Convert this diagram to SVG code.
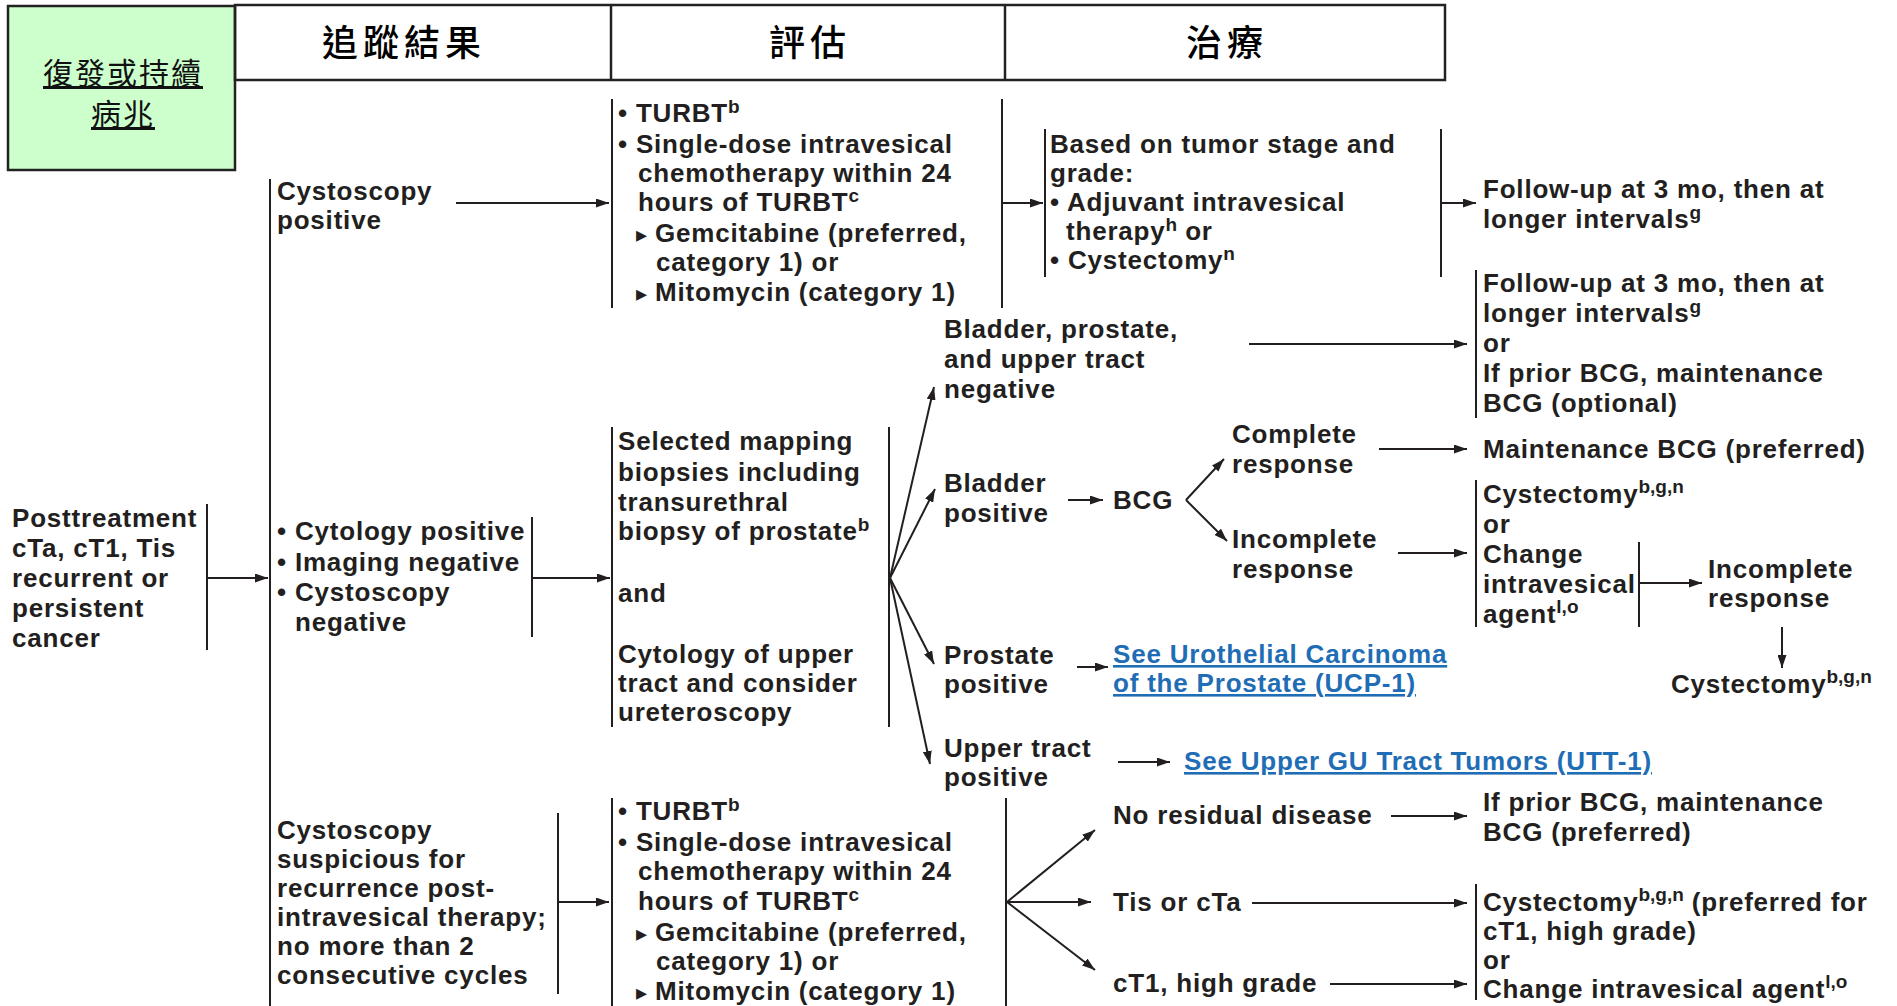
<svg xmlns="http://www.w3.org/2000/svg" width="1897" height="1006" viewBox="0 0 1897 1006">
<style>
.t{font-family:"Liberation Sans",Arial,sans-serif;font-weight:bold;font-size:26px;letter-spacing:0.8px;fill:#231f20}
.sup{font-size:19px;letter-spacing:0}
.tri{font-family:"DejaVu Sans",sans-serif;font-size:22px;letter-spacing:0}
.lk{fill:#1f6db5;text-decoration:underline}
.hd{font-family:"Noto Sans CJK TC","Noto Sans CJK SC",sans-serif;font-weight:500;font-size:36px;letter-spacing:5px;fill:#000;text-anchor:middle}
.gh{font-family:"Noto Sans CJK TC","Noto Sans CJK SC",sans-serif;font-size:30px;letter-spacing:2px;fill:#111;text-anchor:middle;text-decoration:underline}
.ln{stroke:#231f20;stroke-width:2;fill:none}
.ar{stroke:#231f20;stroke-width:2;fill:none;marker-end:url(#ah)}
.hb{stroke:#222;stroke-width:2.5;fill:none}
</style>
<defs>
<marker id="ah" viewBox="0 0 13 9" refX="13" refY="4.5" markerWidth="13" markerHeight="9" markerUnits="userSpaceOnUse" orient="auto">
<path d="M0,0 L13,4.5 L0,9 z" fill="#231f20"/>
</marker>
</defs>
<rect width="1897" height="1006" fill="#fff"/>

<g id="header">
<rect x="8" y="6" width="227" height="164" fill="#ccffcc" stroke="#222" stroke-width="2.5"/>
<text class="gh" x="123" y="84">復發或持續</text>
<text class="gh" x="123" y="125">病兆</text>
<rect class="hb" x="235" y="5" width="1210" height="75"/>
<line class="hb" x1="611" y1="5" x2="611" y2="80"/>
<line class="hb" x1="1005" y1="5" x2="1005" y2="80"/>
<text class="hd" x="404" y="56">追蹤結果</text>
<text class="hd" x="810" y="56">評估</text>
<text class="hd" x="1227" y="56">治療</text>
</g>

<g id="n-posttreatment">
<text class="t" x="12" y="527">Posttreatment</text>
<text class="t" x="12" y="557">cTa, cT1, Tis</text>
<text class="t" x="12" y="587">recurrent or</text>
<text class="t" x="12" y="617">persistent</text>
<text class="t" x="12" y="647">cancer</text>
<line class="ln" x1="207" y1="504" x2="207" y2="650"/>
</g>

<g id="n-followup-col">
<line class="ln" x1="270" y1="179" x2="270" y2="1006"/>
</g>

<g id="n-cysto-pos">
<text class="t" x="277" y="200">Cystoscopy</text>
<text class="t" x="277" y="229">positive</text>
</g>

<g id="n-cytology">
<text class="t" x="277" y="540">• Cytology positive</text>
<text class="t" x="277" y="571">• Imaging negative</text>
<text class="t" x="277" y="601">• Cystoscopy</text>
<text class="t" x="295" y="631">negative</text>
<line class="ln" x1="532" y1="517" x2="532" y2="637"/>
</g>

<g id="n-cysto-susp">
<text class="t" x="277" y="839">Cystoscopy</text>
<text class="t" x="277" y="868">suspicious for</text>
<text class="t" x="277" y="897">recurrence post-</text>
<text class="t" x="277" y="926">intravesical therapy;</text>
<text class="t" x="277" y="955">no more than 2</text>
<text class="t" x="277" y="984">consecutive cycles</text>
<line class="ln" x1="558" y1="813" x2="558" y2="994"/>
</g>

<g id="n-turbt-top">
<line class="ln" x1="612" y1="99" x2="612" y2="308"/>
<line class="ln" x1="1002" y1="99" x2="1002" y2="308"/>
<text class="t" x="618" y="122">• TURBT<tspan class="sup" dy="-9">b</tspan></text>
<text class="t" x="618" y="153">• Single-dose intravesical</text>
<text class="t" x="638" y="182">chemotherapy within 24</text>
<text class="t" x="638" y="211">hours of TURBT<tspan class="sup" dy="-9">c</tspan></text>
<text class="t" x="636" y="242"><tspan class="tri">▸</tspan> Gemcitabine (preferred,</text>
<text class="t" x="656" y="271">category 1) or</text>
<text class="t" x="636" y="301"><tspan class="tri">▸</tspan> Mitomycin (category 1)</text>
</g>

<g id="n-based">
<line class="ln" x1="1045" y1="129" x2="1045" y2="277"/>
<line class="ln" x1="1441" y1="129" x2="1441" y2="277"/>
<text class="t" x="1050" y="153">Based on tumor stage and</text>
<text class="t" x="1050" y="182">grade:</text>
<text class="t" x="1050" y="211">• Adjuvant intravesical</text>
<text class="t" x="1066" y="240">therapy<tspan class="sup" dy="-9">h</tspan><tspan dy="9"> or</tspan></text>
<text class="t" x="1050" y="269">• Cystectomy<tspan class="sup" dy="-9">n</tspan></text>
</g>

<g id="n-followup1">
<text class="t" x="1483" y="198">Follow-up at 3 mo, then at</text>
<text class="t" x="1483" y="228">longer intervals<tspan class="sup" dy="-9">g</tspan></text>
</g>

<g id="n-followup2">
<line class="ln" x1="1476" y1="270" x2="1476" y2="418"/>
<text class="t" x="1483" y="292">Follow-up at 3 mo, then at</text>
<text class="t" x="1483" y="322">longer intervals<tspan class="sup" dy="-9">g</tspan></text>
<text class="t" x="1483" y="352">or</text>
<text class="t" x="1483" y="382">If prior BCG, maintenance</text>
<text class="t" x="1483" y="412">BCG (optional)</text>
</g>

<g id="n-mapping">
<line class="ln" x1="612" y1="427" x2="612" y2="727"/>
<line class="ln" x1="889" y1="427" x2="889" y2="727"/>
<text class="t" x="618" y="450">Selected mapping</text>
<text class="t" x="618" y="481">biopsies including</text>
<text class="t" x="618" y="511">transurethral</text>
<text class="t" x="618" y="540">biopsy of prostate<tspan class="sup" dy="-9">b</tspan></text>
<text class="t" x="618" y="602">and</text>
<text class="t" x="618" y="663">Cytology of upper</text>
<text class="t" x="618" y="692">tract and consider</text>
<text class="t" x="618" y="721">ureteroscopy</text>
</g>

<g id="n-neg">
<text class="t" x="944" y="338">Bladder, prostate,</text>
<text class="t" x="944" y="368">and upper tract</text>
<text class="t" x="944" y="398">negative</text>
</g>

<g id="n-bladder-pos">
<text class="t" x="944" y="492">Bladder</text>
<text class="t" x="944" y="522">positive</text>
</g>

<g id="n-bcg">
<text class="t" x="1113" y="509">BCG</text>
</g>

<g id="n-complete">
<text class="t" x="1232" y="443">Complete</text>
<text class="t" x="1232" y="473">response</text>
</g>

<g id="n-maint">
<text class="t" x="1483" y="458">Maintenance BCG (preferred)</text>
</g>

<g id="n-incomplete">
<text class="t" x="1232" y="548">Incomplete</text>
<text class="t" x="1232" y="578">response</text>
</g>

<g id="n-cyst-change">
<line class="ln" x1="1476" y1="480" x2="1476" y2="627"/>
<line class="ln" x1="1639" y1="542" x2="1639" y2="627"/>
<text class="t" x="1483" y="503">Cystectomy<tspan class="sup" dy="-10">b,g,n</tspan></text>
<text class="t" x="1483" y="533">or</text>
<text class="t" x="1483" y="563">Change</text>
<text class="t" x="1483" y="593">intravesical</text>
<text class="t" x="1483" y="623">agent<tspan class="sup" dy="-10">l,o</tspan></text>
</g>

<g id="n-incomplete2">
<text class="t" x="1708" y="578">Incomplete</text>
<text class="t" x="1708" y="607">response</text>
</g>

<g id="n-cyst2">
<text class="t" x="1671" y="693">Cystectomy<tspan class="sup" dy="-10">b,g,n</tspan></text>
</g>

<g id="n-prostate">
<text class="t" x="944" y="664">Prostate</text>
<text class="t" x="944" y="693">positive</text>
</g>

<g id="n-ucp">
<text class="t lk" x="1113" y="663">See Urothelial Carcinoma</text>
<text class="t lk" x="1113" y="692">of the Prostate (UCP-1)</text>
</g>

<g id="n-upper">
<text class="t" x="944" y="757">Upper tract</text>
<text class="t" x="944" y="786">positive</text>
</g>

<g id="n-utt">
<text class="t lk" x="1184" y="770">See Upper GU Tract Tumors (UTT-1)</text>
</g>

<g id="n-turbt-bot">
<line class="ln" x1="612" y1="798" x2="612" y2="1006"/>
<line class="ln" x1="1006" y1="798" x2="1006" y2="1006"/>
<text class="t" x="618" y="820">• TURBT<tspan class="sup" dy="-9">b</tspan></text>
<text class="t" x="618" y="851">• Single-dose intravesical</text>
<text class="t" x="638" y="880">chemotherapy within 24</text>
<text class="t" x="638" y="910">hours of TURBT<tspan class="sup" dy="-9">c</tspan></text>
<text class="t" x="636" y="941"><tspan class="tri">▸</tspan> Gemcitabine (preferred,</text>
<text class="t" x="656" y="970">category 1) or</text>
<text class="t" x="636" y="1000"><tspan class="tri">▸</tspan> Mitomycin (category 1)</text>
</g>

<g id="n-nores">
<text class="t" x="1113" y="824">No residual disease</text>
</g>

<g id="n-ifprior">
<text class="t" x="1483" y="811">If prior BCG, maintenance</text>
<text class="t" x="1483" y="841">BCG (preferred)</text>
</g>

<g id="n-tis">
<text class="t" x="1113" y="911">Tis or cTa</text>
</g>

<g id="n-ct1">
<text class="t" x="1113" y="992">cT1, high grade</text>
</g>

<g id="n-cyst3">
<line class="ln" x1="1476" y1="884" x2="1476" y2="1000"/>
<text class="t" x="1483" y="911">Cystectomy<tspan class="sup" dy="-10">b,g,n</tspan><tspan dy="10"> (preferred for</tspan></text>
<text class="t" x="1483" y="940">cT1, high grade)</text>
<text class="t" x="1483" y="969">or</text>
<text class="t" x="1483" y="998">Change intravesical agent<tspan class="sup" dy="-10">l,o</tspan></text>
</g>

<g id="connectors">
<line class="ar" x1="207" y1="578" x2="268" y2="578"/>
<line class="ar" x1="456" y1="203" x2="609" y2="203"/>
<line class="ar" x1="532" y1="578" x2="610" y2="578"/>
<line class="ar" x1="559" y1="902" x2="609" y2="902"/>
<line class="ar" x1="1002" y1="203" x2="1043" y2="203"/>
<line class="ar" x1="1441" y1="203" x2="1476" y2="203"/>
<line class="ar" x1="890" y1="578" x2="934" y2="387"/>
<line class="ar" x1="890" y1="578" x2="935" y2="489"/>
<line class="ar" x1="890" y1="578" x2="934" y2="664"/>
<line class="ar" x1="890" y1="578" x2="930" y2="764"/>
<line class="ar" x1="1249" y1="344" x2="1467" y2="344"/>
<line class="ar" x1="1068" y1="500" x2="1103" y2="500"/>
<line class="ar" x1="1186" y1="500" x2="1224" y2="459"/>
<line class="ar" x1="1186" y1="500" x2="1227" y2="541"/>
<line class="ar" x1="1379" y1="449" x2="1467" y2="449"/>
<line class="ar" x1="1398" y1="553" x2="1467" y2="553"/>
<line class="ar" x1="1640" y1="583" x2="1702" y2="583"/>
<line class="ar" x1="1782" y1="627" x2="1782" y2="668"/>
<line class="ar" x1="1077" y1="667" x2="1108" y2="667"/>
<line class="ar" x1="1118" y1="762" x2="1170" y2="762"/>
<line class="ar" x1="1007" y1="902" x2="1095" y2="830"/>
<line class="ar" x1="1007" y1="902" x2="1091" y2="902"/>
<line class="ar" x1="1007" y1="902" x2="1095" y2="970"/>
<line class="ar" x1="1391" y1="816" x2="1467" y2="816"/>
<line class="ar" x1="1252" y1="903" x2="1467" y2="903"/>
<line class="ar" x1="1330" y1="984" x2="1467" y2="984"/>
</g>
</svg>
